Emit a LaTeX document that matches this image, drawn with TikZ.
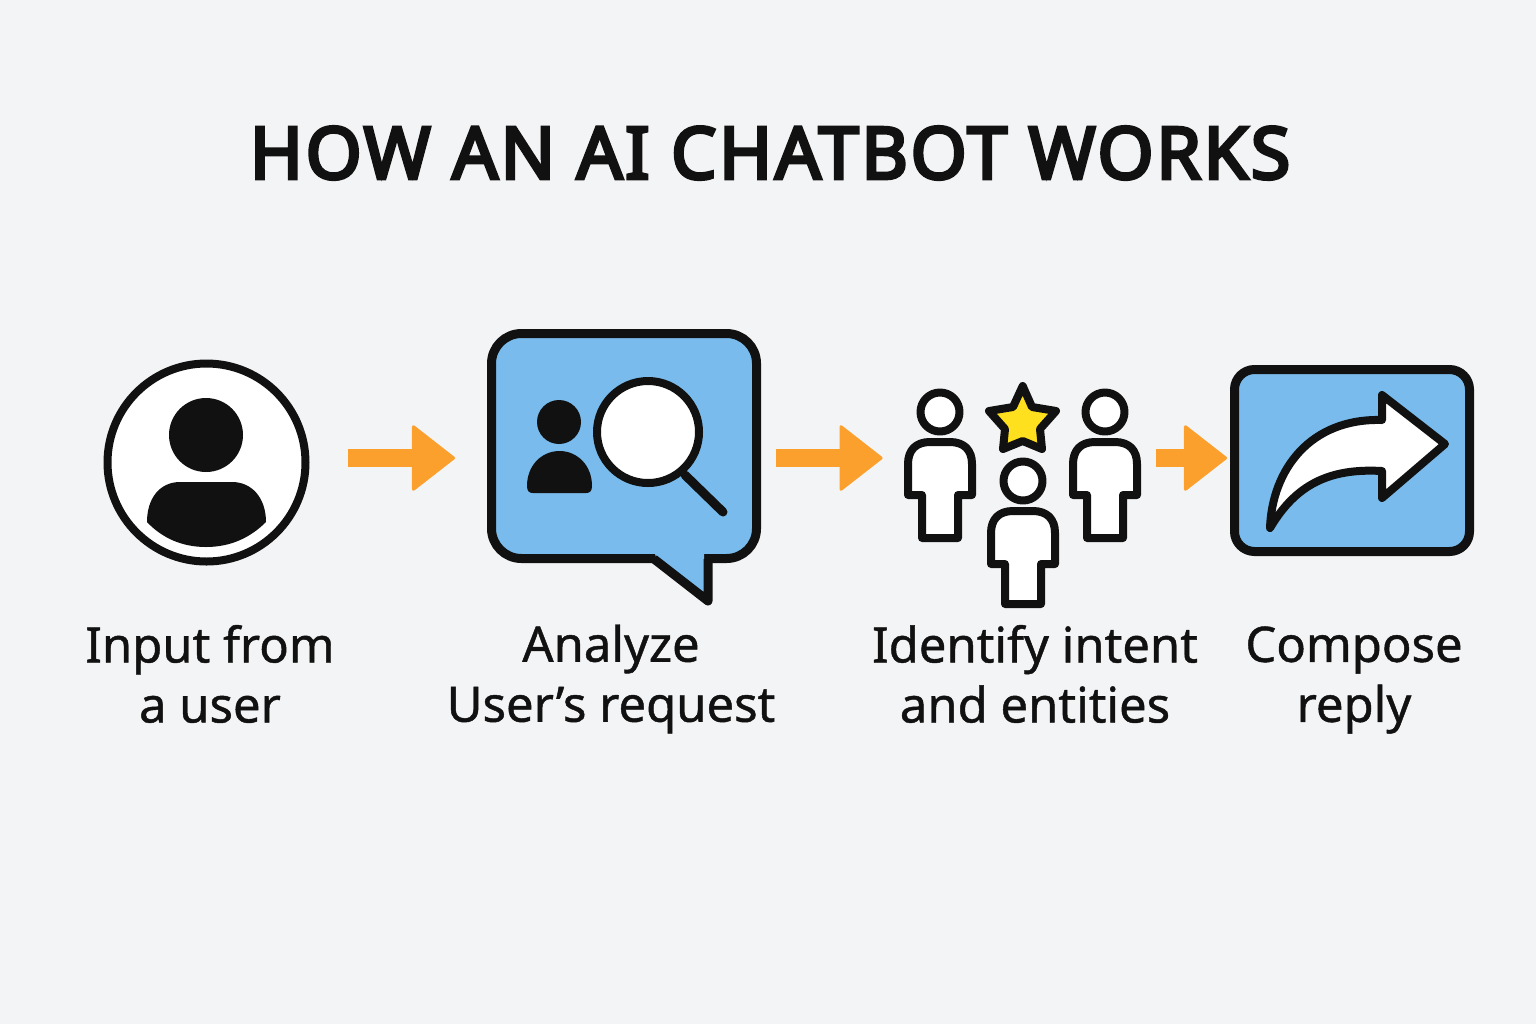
\documentclass[tikz,border=0pt]{standalone}
\usepackage{fontspec}
\setmainfont{Noto Sans}
\newfontfamily\titlefont[FakeBold=4.5, LetterSpace=3.6]{Noto Sans}
\newfontfamily\captionfont[FakeBold=0.9]{Noto Sans}
\usetikzlibrary{arrows.meta}
\definecolor{paper}{HTML}{F3F4F6}
\definecolor{ink}{HTML}{111111}
\definecolor{sky}{HTML}{78BBEC}
\definecolor{amber}{HTML}{FBA02C}
\definecolor{gold}{HTML}{FFE01E}
\tikzstyle{icon}=[draw=ink, line width=4pt, line join=round]
\tikzstyle{blue box}=[icon, line width=4.5pt, fill=sky, rectangle, inner sep=0pt]
\tikzstyle{ring}=[icon, fill=white, circle, inner sep=0pt]
\tikzstyle{solid part}=[fill=ink]
\tikzstyle{flow}=[amber, line width=9pt, -{Triangle[length=22pt, width=34pt, line width=1.5pt, round]}]
\tikzstyle{phantom box}=[inner sep=0pt]
\tikzstyle{caption}=[align=center, font=\captionfont\fontsize{24.5pt}{30pt}\selectfont, text=ink]
\tikzset{pics/person/.style={code={
    \node[ring, minimum size=19.5pt] (-head) at (0, 0) {};
    \draw[icon, fill=white] (-32, 83)
      to (-32, 52)
      .. controls (-32, 38) and (-24, 30) .. (-10, 30)
      to (10, 30)
      .. controls (24, 30) and (32, 38) .. (32, 52)
      to (32, 83) to (18, 83) to (18, #1) to (-18, #1) to (-18, 83)
      to cycle;
  }}}
\begin{document}
\begin{tikzpicture}[x=0.5pt, y=-0.5pt]
  \fill[paper] (0, 0) rectangle (1536, 1024);
  \useasboundingbox (0, 0) rectangle (1536, 1024);
  \node[text=ink, font=\titlefont\fontsize{36pt}{40pt}\selectfont] (title) at (770, 153) {HOW AN AI CHATBOT WORKS};

  % user
  \node[ring, minimum size=99pt] (input) at (206.5, 462.5) {};
  \node[circle, solid part, minimum size=37pt, inner sep=0pt] (inputhead) at (206, 435) {};
  \fill[solid part] (147, 522)
    .. controls (147, 498) and (160, 482) .. (180, 482)
    -- (232, 482)
    .. controls (252, 482) and (266, 498) .. (266, 522)
    .. controls (250, 538) and (230, 547) .. (206, 547)
    .. controls (182, 547) and (162, 538) .. (147, 522) -- cycle;

  % speech bubble
  \node[blue box, minimum width=132.5pt, minimum height=112.5pt, rounded corners=15pt] (analyze) at (624, 446) {};
  \fill[sky] (655, 554) -- (704, 554) -- (704, 598) -- (656, 557) -- cycle;
  \draw[icon, line width=4.5pt] (654, 559) -- (708, 601) -- (708, 559);
  \node[circle, solid part, minimum size=22pt, inner sep=0pt] (analyzehead) at (559, 422) {};
  \fill[solid part] (527, 486)
    .. controls (527, 465) and (542, 451) .. (559.5, 451)
    .. controls (577, 451) and (592, 465) .. (592, 486)
    .. controls (592, 491) and (590, 493) .. (586, 493)
    -- (533, 493)
    .. controls (529, 493) and (527, 491) .. (527, 486) -- cycle;
  \node[ring, minimum size=51pt] (lens) at (648, 432) {};
  \coordinate (handle) at (723, 512);
  \draw[icon, line width=4.5pt, line cap=round] (lens) ++(37, 43) -- (handle);

  % people
  \pic (left) at (940, 412) {person=126};
  \pic (right) at (1105, 412) {person=126};
  \pic (middle) at (1023, 481) {person=123};
  \draw[icon, fill=gold] (1022.7, 386) -- (1032, 407) -- (1056, 411) -- (1040, 429) -- (1042, 449)
    -- (1022.7, 441) -- (1003, 449) -- (1005, 429) -- (989, 411) -- (1013, 407) -- cycle;
  \node[phantom box, minimum width=118pt] (entities) at (1023, 458) {};

  % reply
  \node[blue box, minimum width=117.5pt, minimum height=91pt, rounded corners=10pt] (reply) at (1352, 460.5) {};
  \draw[icon, fill=white] (1445, 444)
    -- (1382, 395)
    -- (1382, 420)
    .. controls (1310, 418) and (1272, 470) .. (1270, 528)
    .. controls (1296, 484) and (1330, 468) .. (1382, 471)
    -- (1382, 498)
    -- cycle;

  \coordinate (row) at (0, 458);
  \draw[flow, shorten <=19pt, shorten >=16pt] (input.east |- row) to (analyze.west |- row);
  \draw[flow, shorten <=7.5pt, shorten >=11pt] (analyze.east |- row) to (entities.west |- row);
  \draw[flow, shorten <=7.5pt, shorten >=1.5pt] (entities.east |- row) to (reply.west |- row);

  \node[caption] (inputlabel) at (210, 674) {Input from\\a user};
  \node[caption] (analyzelabel) at (611, 679) {Analyze\\User’s request};
  \node[caption] (entitieslabel) at (1035, 674) {Identify intent\\and entities};
  \node[caption] (replylabel) at (1354, 680) {Compose\\reply};
\end{tikzpicture}
\end{document}
